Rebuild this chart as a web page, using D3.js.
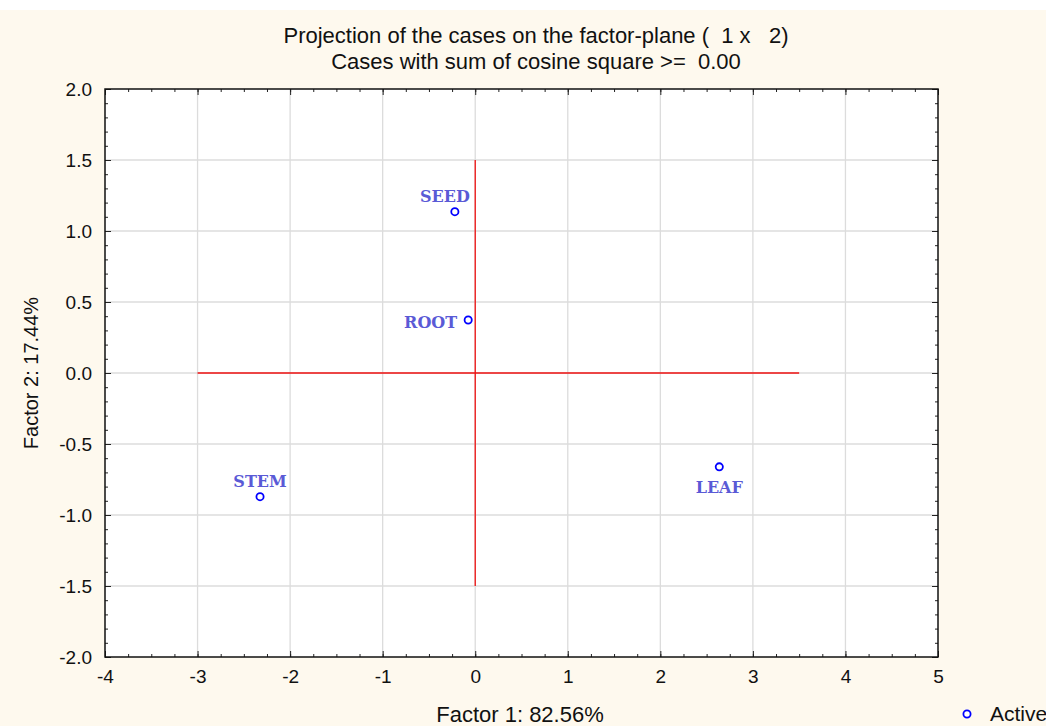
<!DOCTYPE html>
<html>
<head>
<meta charset="utf-8">
<script src="https://cdn.jsdelivr.net/npm/d3@7"></script>
<style>
  body { margin: 0; background: #fff; }
  svg { display: block; }
</style>
</head>
<body>
<script>
// data
var cases = ["SEED", "ROOT", "STEM", "LEAF"];
var factor1 = [-0.22, -0.076, -2.325, 2.637];
var factor2 = [1.136, 0.373, -0.871, -0.661];
var labelPos = ["top", "left", "top", "bottom"];
var xTicks = [-4, -3, -2, -1, 0, 1, 2, 3, 4, 5];
var yTicks = [-2.0, -1.5, -1.0, -0.5, 0.0, 0.5, 1.0, 1.5, 2.0];
var hLine = [-3, 3.5];   // red axis through origin, x extent
var vLine = [-1.5, 1.5]; // y extent

var W = 1046, H = 726;
var margin = {top: 89, right: 108, bottom: 69, left: 105},
    width = W - margin.left - margin.right,
    height = H - margin.top - margin.bottom;

var FONT = "Arial, 'Liberation Sans', sans-serif";

var x = d3.scaleLinear().domain([-4, 5]).range([0, width]);
var y = d3.scaleLinear().domain([-2, 2]).range([height, 0]);

var svg = d3.select("body").append("svg")
    .attr("width", W).attr("height", H)
    .style("font-family", FONT);

// cream background, white strip at the top
svg.append("rect").attr("width", W).attr("height", H).attr("fill", "#fff");
svg.append("rect").attr("y", 10).attr("width", W).attr("height", H - 10).attr("fill", "#fef9ee");

var g = svg.append("g").attr("transform", "translate(" + margin.left + "," + margin.top + ")");

g.append("rect").attr("width", width).attr("height", height).attr("fill", "#fff");

// grid
g.selectAll(".gx").data(xTicks.slice(1, -1)).enter().append("line")
    .attr("x1", function(d) { return x(d); }).attr("x2", function(d) { return x(d); })
    .attr("y1", 0).attr("y2", height)
    .attr("stroke", "#dcdcdc").attr("stroke-width", 1.3);
g.selectAll(".gy").data(yTicks.slice(1, -1)).enter().append("line")
    .attr("y1", function(d) { return y(d); }).attr("y2", function(d) { return y(d); })
    .attr("x1", 0).attr("x2", width)
    .attr("stroke", "#dcdcdc").attr("stroke-width", 1.3);

// inside ticks on all four sides, minor + major
var xMinor = d3.range(-4, 5.001, 0.25), yMinor = d3.range(-2, 2.001, 0.1);
function tickAxis(axis, scale, ticks, size, transform) {
  var a = g.append("g").attr("transform", transform || null)
      .call(axis(scale).tickValues(ticks).tickSize(size).tickFormat(""));
  a.select(".domain").remove();
  a.selectAll("line").attr("stroke", "#222");
  return a;
}
tickAxis(d3.axisTop, x, xMinor, 3, "translate(0," + height + ")");
tickAxis(d3.axisTop, x, xTicks, 6, "translate(0," + height + ")");
tickAxis(d3.axisBottom, x, xMinor, 3);
tickAxis(d3.axisBottom, x, xTicks, 6);
tickAxis(d3.axisRight, y, yMinor, 3);
tickAxis(d3.axisRight, y, yTicks, 6);
tickAxis(d3.axisLeft, y, yMinor, 3, "translate(" + width + ",0)");
tickAxis(d3.axisLeft, y, yTicks, 6, "translate(" + width + ",0)");

// tick labels (plain hyphen as minus)
var fx = function(d) { return d3.format("d")(d).replace("\u2212", "-"); };
var fy = function(d) { return d3.format(".1f")(d).replace("\u2212", "-"); };

var xa = g.append("g").attr("transform", "translate(0," + height + ")")
    .call(d3.axisBottom(x).tickValues(xTicks).tickSize(0).tickPadding(13).tickFormat(fx));
xa.select(".domain").remove();
xa.selectAll("text").style("font-size", "19px").style("font-family", FONT).attr("fill", "#111");

var ya = g.append("g")
    .call(d3.axisLeft(y).tickValues(yTicks).tickSize(0).tickPadding(13).tickFormat(fy));
ya.select(".domain").remove();
ya.selectAll("text").style("font-size", "19px").style("font-family", FONT).attr("fill", "#111");

// red lines through origin
g.append("line")
    .attr("x1", x(hLine[0])).attr("x2", x(hLine[1]))
    .attr("y1", y(0)).attr("y2", y(0))
    .attr("stroke", "#ee1111").attr("stroke-width", 1.3);
g.append("line")
    .attr("x1", x(0)).attr("x2", x(0))
    .attr("y1", y(vLine[0])).attr("y2", y(vLine[1]))
    .attr("stroke", "#ee1111").attr("stroke-width", 1.3);

// frame
g.append("rect").attr("width", width).attr("height", height)
    .attr("fill", "none").attr("stroke", "#111").attr("stroke-width", 1.5);

// points
var data = cases.map(function(c, i) {
  return {name: c, f1: factor1[i], f2: factor2[i], pos: labelPos[i]};
});

g.selectAll(".pt").data(data).enter().append("circle")
    .attr("cx", function(d) { return x(d.f1); })
    .attr("cy", function(d) { return y(d.f2); })
    .attr("r", 3.6)
    .attr("fill", "#fff").attr("stroke", "#0000ff").attr("stroke-width", 1.8);

g.selectAll(".lbl").data(data).enter().append("text")
    .attr("x", function(d) {
      if (d.pos === "left") return x(d.f1) - 11;
      if (d.name === "SEED") return x(d.f1) - 10;
      return x(d.f1);
    })
    .attr("y", function(d) {
      if (d.pos === "top") return y(d.f2) - 10;
      if (d.pos === "bottom") return y(d.f2) + 26;
      return y(d.f2) + 8;
    })
    .attr("text-anchor", function(d) { return d.pos === "left" ? "end" : "middle"; })
    .style("font-family", "'DejaVu Serif', 'Liberation Serif', serif")
    .style("font-weight", "bold")
    .style("font-size", "16px")
    .attr("fill", "#5a5ad6")
    .text(function(d) { return d.name; });

// titles
svg.append("text").attr("x", 536).attr("y", 43).attr("text-anchor", "middle")
    .style("font-size", "22px").attr("fill", "#111")
    .style("white-space", "pre")
    .text("Projection of the cases on the factor-plane (  1 x   2)");
svg.append("text").attr("x", 536).attr("y", 69).attr("text-anchor", "middle")
    .style("font-size", "22px").attr("fill", "#111")
    .style("white-space", "pre")
    .text("Cases with sum of cosine square >=  0.00");

// axis titles
svg.append("text").attr("x", 520).attr("y", 722).attr("text-anchor", "middle")
    .style("font-size", "22px").attr("fill", "#111")
    .text("Factor 1: 82.56%");
svg.append("text")
    .attr("transform", "translate(38," + (margin.top + y(0)) + ") rotate(-90)")
    .attr("text-anchor", "middle")
    .style("font-size", "20px").attr("fill", "#111")
    .text("Factor 2: 17.44%");

// legend
svg.append("circle").attr("cx", 967).attr("cy", 714).attr("r", 3.6)
    .attr("fill", "#fff").attr("stroke", "#0000ff").attr("stroke-width", 1.8);
svg.append("text").attr("x", 990).attr("y", 721)
    .style("font-size", "21px").attr("fill", "#111")
    .text("Active");
</script>
</body>
</html>
